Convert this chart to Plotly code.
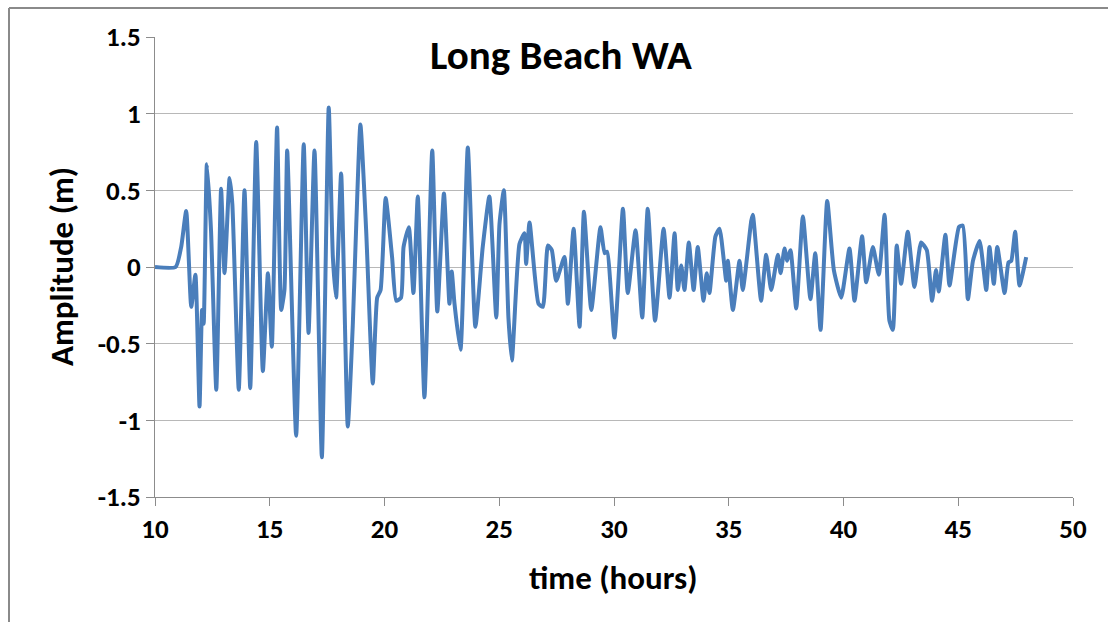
import plotly.graph_objects as go

# time (hours) and amplitude (m)
time_h = [10.0, 10.9, 11.14, 11.36, 11.58, 11.76, 11.94, 12.05, 12.12, 12.26, 12.44, 12.67, 12.88,
          13.03, 13.25, 13.37, 13.65, 13.9, 14.15, 14.41, 14.7, 14.92, 15.09, 15.32, 15.5, 15.64,
          15.76, 16.15, 16.48, 16.69, 16.95, 17.27, 17.57, 17.75, 17.89, 18.11, 18.4, 18.62, 18.77,
          18.95, 19.2, 19.49, 19.68, 19.83, 20.05, 20.33, 20.51, 20.72, 20.83, 21.06, 21.26, 21.45,
          21.74, 22.08, 22.3, 22.59, 22.83, 22.93, 23.05, 23.31, 23.63, 23.96, 24.28, 24.57, 24.87,
          25.01, 25.2, 25.4, 25.55, 25.88, 26.1, 26.17, 26.32, 26.71, 26.9, 27.12, 27.29, 27.48,
          27.84, 27.99, 28.24, 28.5, 28.69, 29.01, 29.41, 29.59, 29.7, 30.02, 30.39, 30.6, 30.94,
          31.23, 31.47, 31.79, 32.16, 32.42, 32.64, 32.78, 32.93, 33.07, 33.26, 33.47, 33.65, 33.9,
          34.04, 34.16, 34.42, 34.6, 34.89, 34.96, 35.18, 35.47, 35.61, 35.98, 36.05, 36.41, 36.63,
          36.85, 37.14, 37.26, 37.43, 37.54, 37.69, 37.94, 38.23, 38.56, 38.77, 39.0, 39.29, 39.58,
          39.9, 40.26, 40.48, 40.81, 40.99, 41.28, 41.54, 41.79, 42.0, 42.15, 42.32, 42.51, 42.8,
          43.09, 43.38, 43.63, 43.86, 44.03, 44.15, 44.44, 44.62, 45.03, 45.2, 45.42, 45.64, 45.93,
          46.22, 46.36, 46.55, 46.7, 47.02, 47.19, 47.31, 47.48, 47.67, 47.96]
amplitude_m = [0, 0, 0.13, 0.365, -0.26, -0.05, -0.91, -0.28, -0.37, 0.67, 0.24, -0.80, 0.51,
               -0.04, 0.58, 0.41, -0.80, 0.50, -0.79, 0.815, -0.68, -0.04, -0.52, 0.91, -0.28, -0.15,
               0.76, -1.10, 0.80, -0.43, 0.76, -1.24, 1.04, 0.065, -0.20, 0.61, -1.04, -0.37, 0.28,
               0.93, 0.24, -0.76, -0.20, -0.15, 0.45, 0.065, -0.22, -0.20, 0.13, 0.26, -0.17, 0.46,
               -0.85, 0.76, -0.29, 0.48, -0.24, -0.03, -0.24, -0.54, 0.78, -0.39, 0.13, 0.46, -0.33,
               0.28, 0.50, -0.33, -0.61, 0.15, 0.22, 0.02, 0.29, -0.24, -0.26, 0.14, 0.11, -0.09,
               0.065, -0.24, 0.25, -0.39, 0.36, -0.28, 0.26, 0.09, 0.10, -0.46, 0.38, -0.17, 0.24,
               -0.33, 0.38, -0.35, 0.25, -0.20, 0.22, -0.15, 0.01, -0.15, 0.16, -0.15, 0.13, -0.22,
               -0.04, -0.17, 0.20, 0.25, -0.09, 0.04, -0.28, 0.04, -0.15, 0.30, 0.34, -0.22, 0.08,
               -0.15, 0.08, -0.04, 0.12, 0.04, 0.11, -0.27, 0.33, -0.21, 0.09, -0.41, 0.43, -0.02,
               -0.20, 0.12, -0.22, 0.20, -0.10, 0.13, -0.05, 0.34, -0.35, -0.41, 0.14, -0.11, 0.23,
               -0.13, 0.16, 0.11, -0.22, -0.02, -0.16, 0.21, -0.12, 0.26, 0.27, -0.21, 0.04, 0.17,
               -0.15, 0.13, -0.11, 0.13, -0.17, 0.03, 0.04, 0.23, -0.12, 0.065]

x_ticks = [10, 15, 20, 25, 30, 35, 40, 45, 50]
x_labels = ["10", "15", "20", "25", "30", "35", "40", "45", "50"]
y_ticks = [-1.5, -1, -0.5, 0, 0.5, 1, 1.5]
y_labels = ["-1.5", "-1", "-0.5", "0", "0.5", "1", "1.5"]

FONT = "Carlito, Calibri, Lato, sans-serif"
W, H = 1108, 622
L, R, T, B = 155, 35, 37, 125
pw, ph = W - L - R, H - T - B


def px(xp):
    return (xp - L) / pw


def py(yp):
    return (H - B - yp) / ph


fig = go.Figure()
fig.add_trace(go.Scatter(x=time_h, y=amplitude_m, mode="lines",
                         line=dict(color="#4A7EBB", width=4, shape="spline", smoothing=0.5),
                         showlegend=False))

tick_font = dict(family=FONT, size=27, weight="bold", color="black")
frame_line = dict(color="#8A8A8A", width=2)

fig.update_layout(
    width=W, height=H,
    margin=dict(l=L, r=R, t=T, b=B, pad=0),
    paper_bgcolor="white", plot_bgcolor="white",
    font=dict(family=FONT, color="black"),
    xaxis=dict(range=[10, 50], tickvals=x_ticks, ticktext=x_labels,
               showgrid=False, zeroline=False, showline=True, linecolor="#8C8C8C", linewidth=1,
               ticks="outside", ticklen=8, tickcolor="#8C8C8C", tickfont=tick_font),
    yaxis=dict(range=[-1.5, 1.5], tickvals=y_ticks, ticktext=y_labels,
               showgrid=True, gridcolor="#B8B8B8", gridwidth=1, zeroline=False,
               showline=True, linecolor="#8C8C8C", linewidth=1,
               ticks="outside", ticklen=8, tickcolor="#8C8C8C", tickfont=tick_font),
    annotations=[
        dict(text="Long Beach WA", x=px(561), y=py(55), xref="paper", yref="paper",
             showarrow=False, xanchor="center", yanchor="middle",
             font=dict(family=FONT, size=41, weight="bold", color="black")),
        dict(text="Amplitude (m)", x=px(62), y=0.5, xref="paper", yref="paper", textangle=-90,
             showarrow=False, xanchor="center", yanchor="middle",
             font=dict(family=FONT, size=33, weight="bold", color="black")),
        dict(text="time (hours)", x=px(613), y=py(578), xref="paper", yref="paper",
             showarrow=False, xanchor="center", yanchor="middle",
             font=dict(family=FONT, size=33, weight="bold", color="black")),
    ],
    shapes=[
        # outer chart frame: only left and top edges fall inside the picture
        dict(type="line", xref="paper", yref="paper", x0=px(9), x1=px(9), y0=py(622), y1=py(8),
             line=frame_line),
        dict(type="line", xref="paper", yref="paper", x0=px(9), x1=px(1108), y0=py(8), y1=py(8),
             line=frame_line),
    ],
)

fig.write_html("out.html", config={"displayModeBar": False},
               post_script="document.body.style.margin='0';document.body.style.overflow='hidden';")
